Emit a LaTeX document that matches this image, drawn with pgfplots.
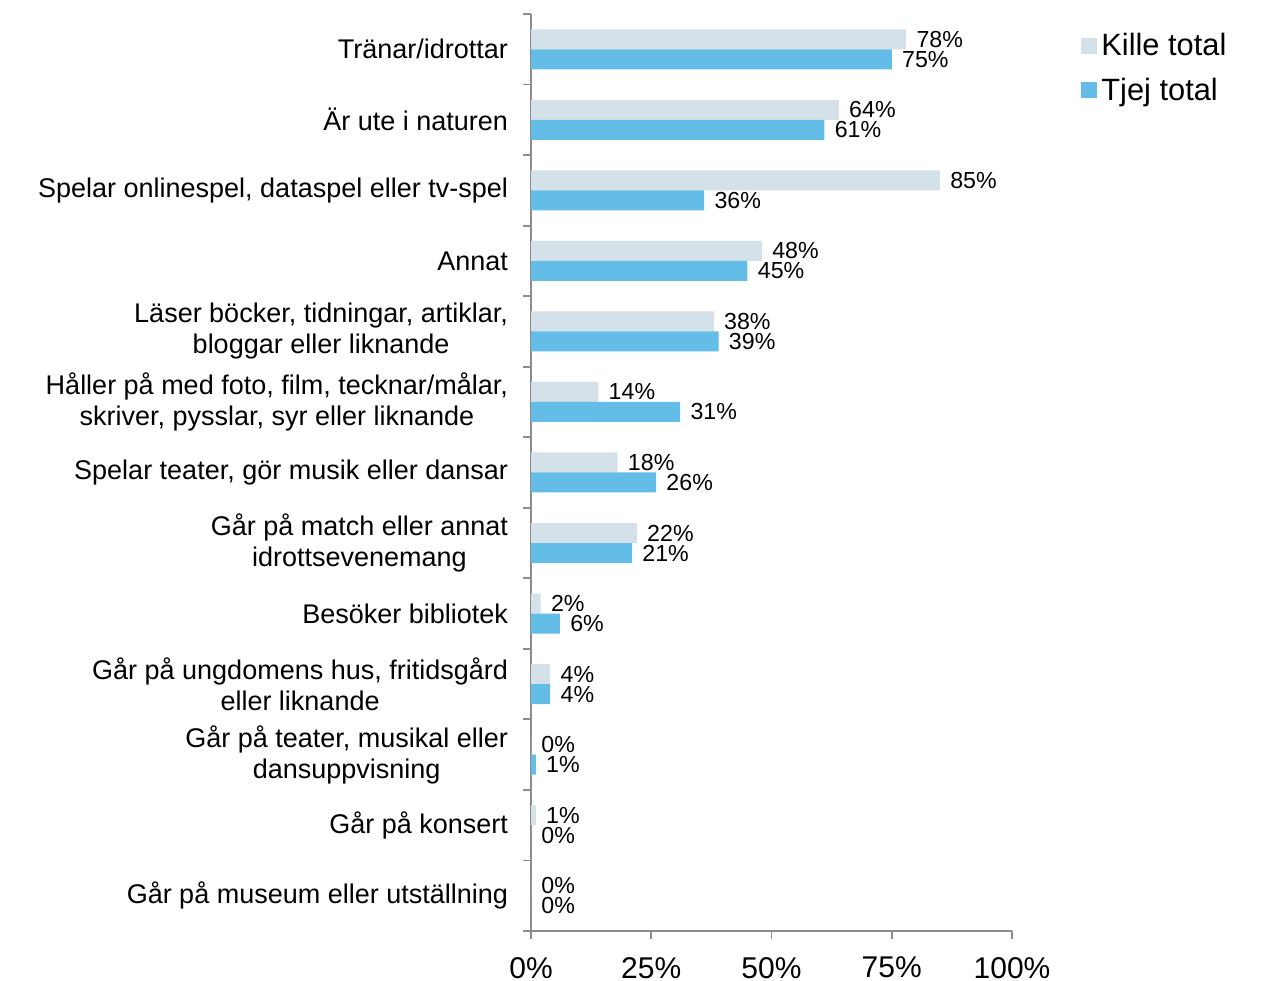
\documentclass[border=0pt]{standalone}
\usepackage{fontspec}
\setmainfont{Liberation Sans}
\usepackage{pgfplots}
\pgfplotsset{compat=1.18}
\definecolor{kille}{RGB}{213,225,232}
\definecolor{tjej}{RGB}{99,189,230}
\definecolor{axgray}{RGB}{140,140,140}

\begin{document}
\begin{tikzpicture}
\begin{axis}[
  at={(265.5pt,24.5pt)}, anchor=south west,
  scale only axis, width=240.5pt, height=458.5pt,
  xmin=0, xmax=100, ymin=-0.5, ymax=12.5,
  xbar, bar width=10pt,
  axis x line*=bottom, axis y line*=left,
  axis line style={axgray, line width=0.9pt, -},
  tick align=outside,
  major tick length=4pt, minor tick length=4pt,
  every tick/.style={axgray, line width=0.9pt},
  every major y tick/.style={draw=none},
  xtick={0,25,50,75,100},
  xticklabels={0\%,25\%,50\%,75\%,100\%},
  xticklabel style={font=\fontsize{15}{17}\selectfont, yshift=-5.5pt},
  ytick={0,...,12},
  minor ytick={-0.5,0.5,...,12.5},
  yticklabels={
    Går på museum eller utställning,
    Går på konsert,
    {Går på teater, musikal eller\\dansuppvisning},
    {Går på ungdomens hus, fritidsgård\\eller liknande},
    Besöker bibliotek,
    {Går på match eller annat\\idrottsevenemang},
    {Spelar teater, gör musik eller dansar},
    {Håller på med foto, film, tecknar/målar,\\skriver, pysslar, syr eller liknande},
    {Läser böcker, tidningar, artiklar,\\bloggar eller liknande},
    Annat,
    {Spelar onlinespel, dataspel eller tv-spel},
    Är ute i naturen,
    Tränar/idrottar},
  yticklabel style={font=\fontsize{13.5}{15.5}\selectfont, align=center, xshift=-4pt},
  point meta=x,
  /pgf/number format/assume math mode=true,
  nodes near coords={\pgfmathprintnumber{\pgfplotspointmeta}\%},
  every node near coord/.append style={font=\fontsize{11.6}{13}\selectfont, inner sep=0pt, anchor=west, xshift=5pt},
  legend style={at={(1.131,0.988)}, anchor=north west, draw=none, fill=none,
    font=\fontsize{15.4}{18}\selectfont, row sep=5.5pt, cells={anchor=west}},
  legend image code/.code={\fill[#1] (0pt,-4pt) rectangle (8pt,4pt);},
]
\addplot[fill=kille, draw=none, bar shift=5pt] coordinates {
  (78,12) (64,11) (85,10) (48,9) (38,8) (14,7) (18,6)
  (22,5) (2,4) (4,3) (0,2) (1,1) (0,0)};
\addlegendentry{Kille total}
\addplot[fill=tjej, draw=none, bar shift=-5pt] coordinates {
  (75,12) (61,11) (36,10) (45,9) (39,8) (31,7) (26,6)
  (21,5) (6,4) (4,3) (1,2) (0,1) (0,0)};
\addlegendentry{Tjej total}
\end{axis}
\pgfresetboundingbox
\path[use as bounding box] (0,0) rectangle (631pt,490pt);
\end{tikzpicture}
\end{document}
